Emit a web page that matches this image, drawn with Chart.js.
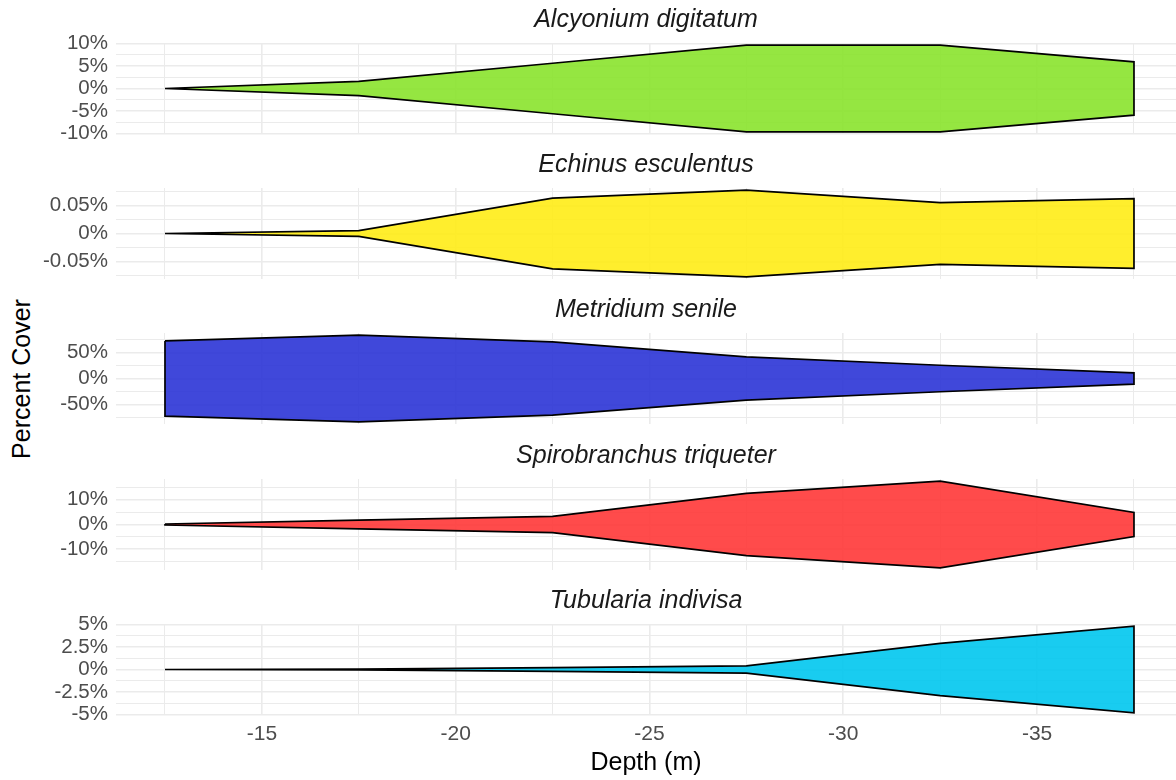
<!DOCTYPE html>
<html>
<head>
<meta charset="utf-8">
<script src="https://cdn.jsdelivr.net/npm/chart.js@4.4.0/dist/chart.umd.min.js"></script>
<style>
  html, body { margin: 0; padding: 0; background: #fff; overflow: hidden; }
  #wrap { position: relative; width: 1176px; height: 780px; }
  #wrap canvas { position: absolute; left: 0; }
  #ytitle {
    position: absolute; left: 21px; top: 379px;
    transform: translate(-50%, -50%) rotate(-90deg);
    font: 25px 'Liberation Sans', Arial, sans-serif; color: #000; white-space: nowrap;
  }
</style>
</head>
<body>
<div id="wrap"><div id="ytitle">Percent Cover</div></div>
<script>
const depths = [-12.5, -17.5, -22.5, -27.5, -32.5, -37.5];
const species = ['Alcyonium digitatum', 'Echinus esculentus', 'Metridium senile', 'Spirobranchus triqueter', 'Tubularia indivisa'];

// percent cover per depth (half width of the kite)
const alcyonium = [0, 1.6, 5.6, 9.6, 9.6, 5.9];
const echinus = [0, 0.005, 0.063, 0.077, 0.055, 0.062];
const metridium = [72.5, 83.5, 70.5, 41.5, 25.5, 11];
const spirobranchus = [0.2, 1.8, 3.3, 12.6, 17.5, 4.9];
const tubularia = [0, 0.04, 0.2, 0.4, 2.9, 4.8];

const xMajor = [-15, -20, -25, -30, -35];
const xMinor = [-12.5, -17.5, -22.5, -27.5, -32.5, -37.5];
const yMajor = [[-10, -5, 0, 5, 10], [-0.05, 0, 0.05], [-50, 0, 50], [-10, 0, 10], [-5, -2.5, 0, 2.5, 5]];
const yMinor = [[-7.5, -2.5, 2.5, 7.5], [-0.075, -0.025, 0.025, 0.075], [-75, -25, 25, 75], [-15, -5, 5, 15], [-3.75, -1.25, 1.25, 3.75]];

const covers = [alcyonium, echinus, metridium, spirobranchus, tubularia];
const fills = ['rgba(138, 227, 44, 0.9)', 'rgba(255, 236, 22, 0.9)', 'rgba(43, 52, 214, 0.9)', 'rgba(255, 55, 55, 0.9)', 'rgba(0, 198, 238, 0.9)'];

const FONT = "'Liberation Sans', Arial, sans-serif";
const wrap = document.getElementById('wrap');

function kite(values) {
    const upper = depths.map((d, i) => ({ x: d, y: values[i] }));
    const lower = depths.map((d, i) => ({ x: d, y: -values[i] })).reverse();
    const pts = upper.concat(lower);
    pts.push(upper[0]);
    return pts;
}

species.forEach(function (name, p) {
    const last = p === species.length - 1;
    const canvas = document.createElement('canvas');
    canvas.width = 1176;
    canvas.height = last ? 199 : 145;
    canvas.style.top = Math.round(p * 145.2) + 'px';
    wrap.appendChild(canvas);

    const lim = Math.max.apply(null, covers[p]) * 1.05;
    const yTicks = yMajor[p].concat(yMinor[p]).sort((a, b) => a - b);
    const xTicks = xMajor.concat(xMinor).sort((a, b) => a - b);

    new Chart(canvas.getContext('2d'), {
        type: 'line',
        data: {
            datasets: [{
                label: name,
                data: kite(covers[p]),
                backgroundColor: fills[p],
                borderColor: '#000',
                borderWidth: 1.7,
                borderJoinStyle: 'miter',
                fill: 'shape',
                tension: 0,
                pointRadius: 0
            }]
        },
        options: {
            responsive: false,
            animation: false,
            layout: { padding: { top: 0, left: 0, right: 0, bottom: last ? 0 : 11 } },
            plugins: {
                legend: { display: false },
                tooltip: { enabled: false },
                title: {
                    display: true,
                    text: name,
                    fullSize: false,
                    color: '#1a1a1a',
                    font: { family: FONT, size: 25, style: 'italic', weight: 'normal' },
                    padding: { top: 5, bottom: 8 }
                }
            },
            scales: {
                x: {
                    type: 'linear',
                    reverse: true,
                    min: -38.584,
                    max: -11.236,
                    afterBuildTicks: s => { s.ticks = xTicks.map(v => ({ value: v })); },
                    afterFit: s => {
                        s.height = last ? 65 : 0;
                        s.paddingLeft = 0;
                        s.paddingRight = 0;
                    },
                    border: { display: false },
                    grid: {
                        drawTicks: false,
                        color: '#ebebeb',
                        lineWidth: c => xMajor.includes(c.tick.value) ? 1.6 : 1
                    },
                    ticks: {
                        display: last,
                        autoSkip: false,
                        maxRotation: 0,
                        padding: 7,
                        color: '#4d4d4d',
                        font: { family: FONT, size: 21 },
                        callback: v => xMajor.includes(v) ? String(v) : ''
                    },
                    title: {
                        display: last,
                        text: 'Depth (m)',
                        color: '#000',
                        font: { family: FONT, size: 25 },
                        padding: { top: 1, bottom: 2 }
                    }
                },
                y: {
                    min: -lim,
                    max: lim,
                    afterBuildTicks: s => { s.ticks = yTicks.map(v => ({ value: v })); },
                    afterFit: s => {
                        s.width = 116;
                        s.paddingTop = 0;
                        s.paddingBottom = 0;
                    },
                    border: { display: false },
                    grid: {
                        drawTicks: false,
                        color: '#ebebeb',
                        lineWidth: c => yMajor[p].includes(c.tick.value) ? 1.6 : 1
                    },
                    ticks: {
                        autoSkip: false,
                        padding: 8,
                        color: '#4d4d4d',
                        font: { family: FONT, size: 20.5 },
                        callback: v => yMajor[p].includes(v) ? v + '%' : ''
                    }
                }
            }
        }
    });
});
</script>
</body>
</html>
